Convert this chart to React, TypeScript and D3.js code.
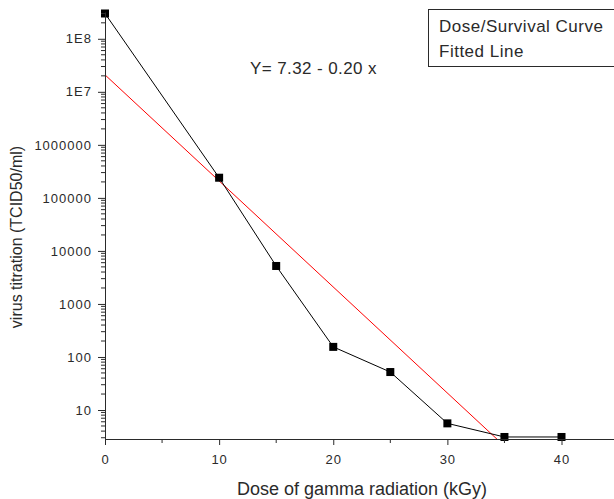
import * as d3 from "d3";
import { useEffect, useRef } from "react";

// dose (kGy) and virus titre
const doses = [0, 10, 15, 20, 25, 30, 35, 40];
const titres = [3.0e8, 2.4e5, 5.2e3, 155, 52, 5.6, 3.1, 3.1];
const yTicks = [10, 100, 1000, 10000, 100000, 1000000, 1e7, 1e8];
const yTickLabels = ["10", "100", "1000", "10000", "100000", "1000000", "1E7", "1E8"];
const xTicks = [0, 10, 20, 30, 40];
const legendItems = ["Dose/Survival Curve", "Fitted Line"];
const fitA = 7.32;
const fitB = -0.2;

export default function App() {
  const svgRef = useRef<SVGSVGElement>(null);

  useEffect(() => {
    const width = 614;
    const height = 499;
    const margin = { left: 105, top: 12, right: 0, bottom: 60 };
    const font = "'Liberation Sans', Arial, sans-serif";
    const ink = "#2a2a2a";

    const svg = d3.select(svgRef.current).attr("width", width).attr("height", height);
    svg.selectAll("*").remove();

    const x = d3.scaleLinear().domain([0, 44.6]).range([margin.left, width - margin.right]);
    const y = d3.scaleLog().domain([2.84, 3.2e8]).range([height - margin.bottom, margin.top]);

    const clipId = "plotclip";
    svg
      .append("clipPath")
      .attr("id", clipId)
      .append("rect")
      .attr("x", margin.left)
      .attr("y", margin.top - 6)
      .attr("width", width - margin.left)
      .attr("height", height - margin.bottom - margin.top + 6);

    //fitted line
    const fitX = [0, 40];
    svg
      .append("path")
      .attr("clip-path", `url(#${clipId})`)
      .attr(
        "d",
        d3
          .line<number>()
          .x((d) => x(d))
          .y((d) => y(Math.pow(10, fitA + fitB * d)))(fitX)
      )
      .attr("fill", "none")
      .attr("stroke", "#ff0000")
      .attr("stroke-width", 1);

    //data line
    const pts = doses.map((d, i) => [d, titres[i]] as [number, number]);
    svg
      .append("path")
      .attr("clip-path", `url(#${clipId})`)
      .attr(
        "d",
        d3
          .line<[number, number]>()
          .x((d) => x(d[0]))
          .y((d) => y(d[1]))(pts)
      )
      .attr("fill", "none")
      .attr("stroke", "#000")
      .attr("stroke-width", 1);

    svg
      .append("g")
      .selectAll("rect")
      .data(pts)
      .enter()
      .append("rect")
      .attr("x", (d) => x(d[0]) - 4)
      .attr("y", (d) => y(d[1]) - 4)
      .attr("width", 8)
      .attr("height", 8)
      .attr("fill", "#000");

    //axes
    const xAxis = d3
      .axisBottom(x)
      .tickValues(xTicks)
      .tickSize(6)
      .tickSizeOuter(0)
      .tickFormat((d) => String(d));
    const gx = svg
      .append("g")
      .attr("transform", `translate(0,${height - margin.bottom})`)
      .call(xAxis);
    gx.selectAll("text")
      .attr("font-family", font)
      .attr("font-size", 13)
      .attr("letter-spacing", 1)
      .attr("fill", ink)
      .attr("dy", "1.2em");
    gx.selectAll("line, path").attr("stroke", ink);

    const xMinor = d3.range(5, 45, 10);
    gx.selectAll(".minor")
      .data(xMinor)
      .enter()
      .append("line")
      .attr("x1", (d) => x(d))
      .attr("x2", (d) => x(d))
      .attr("y1", 0)
      .attr("y2", 4)
      .attr("stroke", ink);

    const yAxis = d3
      .axisLeft(y)
      .tickValues(yTicks)
      .tickSize(7)
      .tickSizeOuter(0)
      .tickFormat((d, i) => yTickLabels[i]);
    const gy = svg.append("g").attr("transform", `translate(${margin.left},0)`).call(yAxis);
    gy.selectAll("text")
      .attr("font-family", font)
      .attr("font-size", 13)
      .attr("letter-spacing", 1)
      .attr("fill", ink)
      .attr("x", -13);
    gy.selectAll("line, path").attr("stroke", ink);

    const yMinor: number[] = [];
    for (let e = 0; e <= 8; e++) {
      for (let m = 2; m <= 9; m++) {
        const v = m * Math.pow(10, e);
        if (v >= 2.84 && v <= 3.2e8) yMinor.push(v);
      }
    }
    gy.selectAll(".minor")
      .data(yMinor)
      .enter()
      .append("line")
      .attr("x1", -4)
      .attr("x2", 0)
      .attr("y1", (d) => y(d))
      .attr("y2", (d) => y(d))
      .attr("stroke", ink);

    //axis labels
    svg
      .append("text")
      .attr("x", 362)
      .attr("y", 495)
      .attr("text-anchor", "middle")
      .attr("font-family", font)
      .attr("font-size", 18)
      .attr("fill", ink)
      .text("Dose of gamma radiation (kGy)");
    svg
      .append("text")
      .attr("transform", "translate(22,237) rotate(-90)")
      .attr("text-anchor", "middle")
      .attr("font-family", font)
      .attr("font-size", 16)
      .attr("fill", ink)
      .text("virus titration (TCID50/ml)");

    //equation
    svg
      .append("text")
      .attr("x", 250)
      .attr("y", 74)
      .attr("font-family", font)
      .attr("font-size", 17)
      .attr("letter-spacing", 0.4)
      .attr("fill", ink)
      .text(`Y= ${fitA.toFixed(2)} - ${Math.abs(fitB).toFixed(2)} x`);

    //legend
    svg
      .append("rect")
      .attr("x", 428.5)
      .attr("y", 9.5)
      .attr("width", 186)
      .attr("height", 57)
      .attr("fill", "#fff")
      .attr("stroke", ink);
    svg
      .selectAll(".legend")
      .data(legendItems)
      .enter()
      .append("text")
      .attr("x", 439)
      .attr("y", (d, i) => 32 + i * 25)
      .attr("font-family", font)
      .attr("font-size", 17)
      .attr("letter-spacing", 0.5)
      .attr("fill", ink)
      .text((d) => d);
  }, []);

  return (
    <svg
      ref={svgRef}
      style={{ position: "absolute", left: 0, top: 0, background: "#fff" }}
    ></svg>
  );
}
